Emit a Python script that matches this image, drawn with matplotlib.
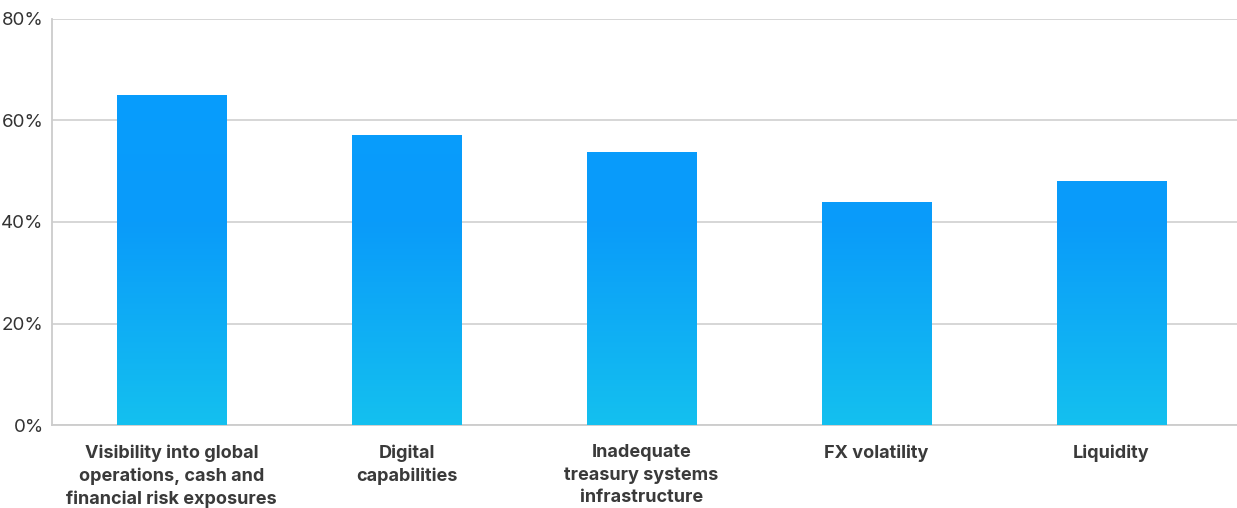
import matplotlib
matplotlib.use("Agg")
import matplotlib.pyplot as plt
import numpy as np
from matplotlib.colors import LinearSegmentedColormap

categories = ["Visibility into global\noperations, cash and\nfinancial risk exposures",
              "Digital\ncapabilities",
              "Inadequate\ntreasury systems\ninfrastructure",
              "FX volatility",
              "Liquidity"]
values = [65.0, 57.1, 53.8, 43.9, 48.1]
yticks = [0, 20, 40, 60, 80]
ytick_labels = ["0%", "20%", "40%", "60%", "80%"]

W, H = 1237, 508
fig = plt.figure(figsize=(W/100, H/100), dpi=100)
ax = fig.add_axes([52/W, (508-425)/H, (1237-52)/W, (425-19)/H])

x = np.arange(len(categories))
bw = 0.464
cmap = LinearSegmentedColormap.from_list("g", [(0.0, "#14C0EF"), (0.5, "#0A9BFA"), (1.0, "#069EFE")])
grad = np.linspace(0, 1, 256).reshape(-1, 1)
bars = ax.bar(x, values, width=bw, color="none", edgecolor="none", zorder=3)
for b in bars:
    im = ax.imshow(grad, cmap=cmap, origin="lower", aspect="auto",
                   extent=[b.get_x(), b.get_x()+b.get_width(), 0, 80], zorder=3)
    im.set_clip_path(b)

ax.set_xlim((52-171.5)/235, (1237-171.5)/235)
ax.set_ylim(0, 80)
ax.set_yticks(yticks)
ax.set_yticklabels(ytick_labels, fontsize=13.5, color="#333333", family="Inter")
ax.set_xticks(x)
ax.set_xticklabels(categories, fontsize=13, fontweight="bold", color="#3a3a3a",
                   family="Inter", linespacing=1.42, va="top")
ax.tick_params(axis="both", length=0)
ax.tick_params(axis="y", pad=6)
ax.tick_params(axis="x", pad=14)
ax.grid(axis="y", color="#cccccc", linewidth=1.1, zorder=0)
for s in ["top", "right"]:
    ax.spines[s].set_visible(False)
for s in ["left", "bottom"]:
    ax.spines[s].set_color("#cccccc")
    ax.spines[s].set_linewidth(1.3)
ax.set_axisbelow(True)

fig.savefig("out.png", dpi=100)
